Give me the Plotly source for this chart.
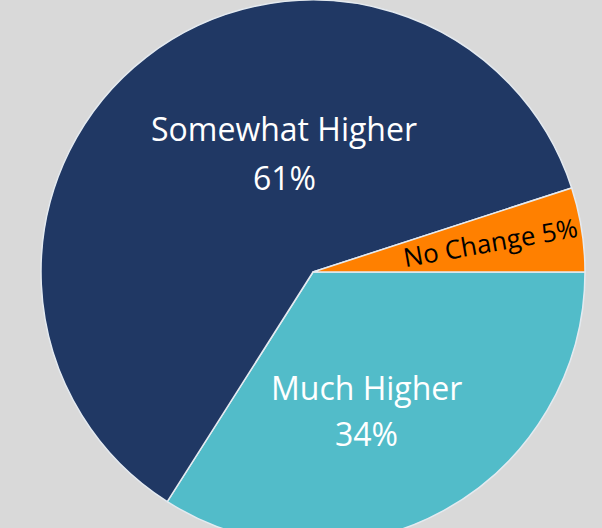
import plotly.graph_objects as go

labels = ["Much Higher", "Somewhat Higher", "No Change"]
values = [34, 61, 5]
colors = ["#52bcc9", "#203864", "#ff8000"]

fig = go.Figure()
fig.add_trace(go.Pie(
    labels=labels,
    values=values,
    sort=False,
    direction="clockwise",
    rotation=90,
    textinfo="none",
    hoverinfo="label+percent",
    marker=dict(colors=colors, line=dict(color="#e4eaf0", width=1.5)),
    domain=dict(x=[0.0681, 0.9718], y=[0.0, 1.0]),
    showlegend=False,
))

pct = {l: f"{v}%" for l, v in zip(labels, values)}
font_big = dict(family="Open Sans", size=32, color="white")

annotations = [
    dict(text=labels[1], x=0.4718, y=0.7629, font=font_big),
    dict(text=pct[labels[1]], x=0.4718, y=0.6746, font=font_big),
    dict(text=labels[0], x=0.608, y=0.2868, font=font_big),
    dict(text=pct[labels[0]], x=0.608, y=0.204, font=font_big),
    dict(text=f"{labels[2]} {pct[labels[2]]}", x=0.815, y=0.556, textangle=-10,
         font=dict(family="Open Sans", size=26, color="black")),
]
for a in annotations:
    a.update(xref="paper", yref="paper", showarrow=False, xanchor="center", yanchor="middle")

fig.update_layout(
    width=602, height=544,
    margin=dict(l=0, r=0, t=0, b=0),
    paper_bgcolor="#d9d9d9",
    plot_bgcolor="#d9d9d9",
    annotations=annotations,
)

fig.write_html(
    "out.html",
    config={"displayModeBar": False},
    post_script="document.body.style.margin='0';document.body.style.background='#d9d9d9';document.body.style.overflow='hidden';",
)
